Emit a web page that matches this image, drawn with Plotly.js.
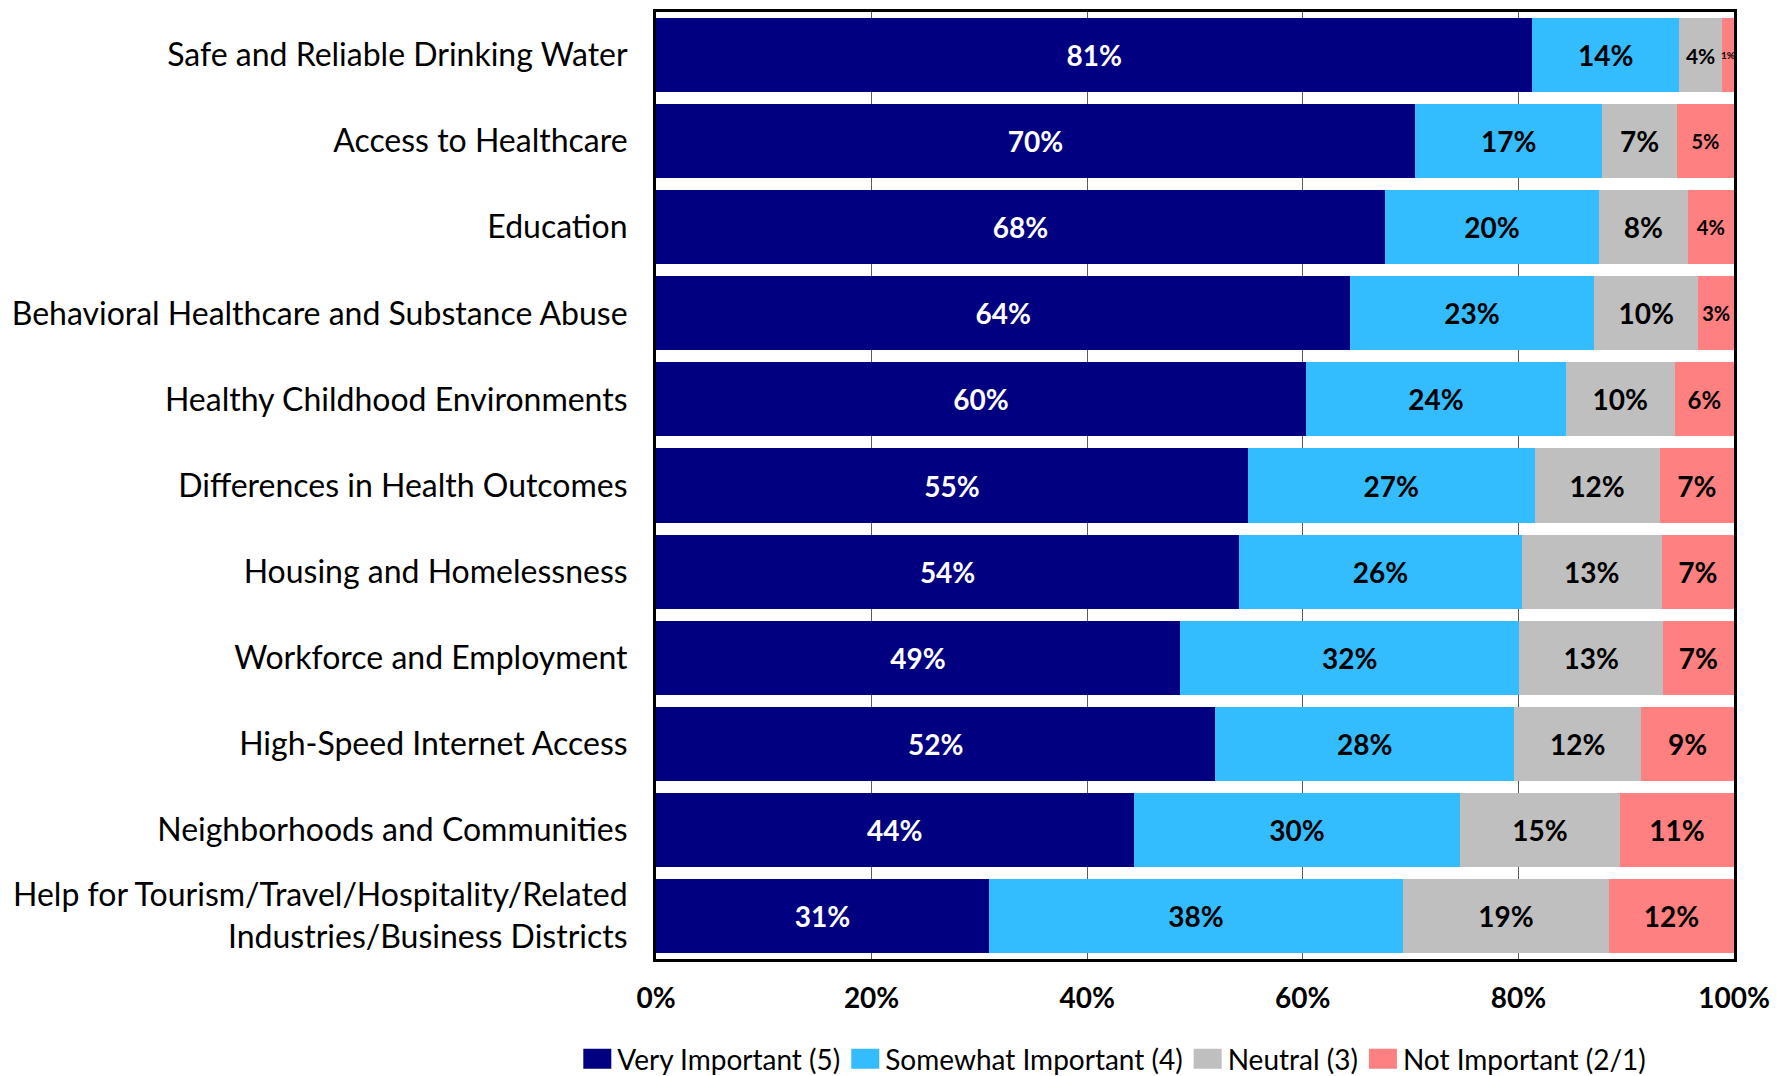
<!DOCTYPE html>
<html>
<head>
<meta charset="utf-8">
<script src="https://cdn.plot.ly/plotly-3.0.1.min.js"></script>
<style>
  html, body { margin: 0; padding: 0; background: #ffffff; }
  #chart { width: 1791px; height: 1076px; }
</style>
</head>
<body>
<div id="chart"></div>
<script>
// Categories (top to bottom)
const categories = [
  "Safe and Reliable Drinking Water",
  "Access to Healthcare",
  "Education",
  "Behavioral Healthcare and Substance Abuse",
  "Healthy Childhood Environments",
  "Differences in Health Outcomes",
  "Housing and Homelessness",
  "Workforce and Employment",
  "High-Speed Internet Access",
  "Neighborhoods and Communities",
  "Help for Tourism/Travel/Hospitality/Related<br>Industries/Business Districts"
];

// Series values (percent of respondents)
const veryImportant     = [81.3, 70.4, 67.6, 64.4, 60.3, 54.9, 54.1, 48.6, 51.9, 44.3, 30.9];
const somewhatImportant = [13.6, 17.4, 19.9, 22.6, 24.1, 26.6, 26.2, 31.5, 27.7, 30.3, 38.4];
const neutral           = [ 4.0,  6.9,  8.2,  9.7, 10.1, 11.6, 13.0, 13.3, 11.8, 14.8, 19.1];
const notImportant      = [ 1.1,  5.3,  4.3,  3.3,  5.5,  6.9,  6.7,  6.6,  8.6, 10.6, 11.6];

const seriesNames = ["Very Important (5)", "Somewhat Important (4)", "Neutral (3)", "Not Important (2/1)"];
const xTickVals = [0, 20, 40, 60, 80, 100];
const xTickText = ["0%", "20%", "40%", "60%", "80%", "100%"];

// Styling
const colors = ["#000080", "#33BDFF", "#BFBFBF", "#FF8080"];
const textColors = ["#FFFFFF", "#000000", "#000000", "#000000"];
const neutralLabelSizes = [21, 28, 28, 28, 28, 28, 28, 28, 28, 28, 28];
const notImpLabelSizes  = [10, 20, 20, 20, 24, 28, 28, 28, 28, 28, 28];
const FONT = "Lato, 'Open Sans', sans-serif";

const seriesValues = [veryImportant, somewhatImportant, neutral, notImportant];
const labelSizes = [28, 28, neutralLabelSizes, notImpLabelSizes];

const data = seriesValues.map((vals, i) => ({
  type: "bar",
  orientation: "h",
  name: seriesNames[i],
  y: categories,
  x: vals,
  marker: { color: colors[i], line: { width: 0 } },
  texttemplate: "%{x:.0f}%",
  textposition: "inside",
  insidetextanchor: "middle",
  textangle: 0,
  constraintext: "none",
  textfont: { family: FONT, size: labelSizes[i], color: textColors[i], weight: "bold" },
  hoverinfo: "skip"
}));

const layout = {
  width: 1791,
  height: 1076,
  barmode: "stack",
  bargap: 0.14,
  paper_bgcolor: "#FFFFFF",
  plot_bgcolor: "#FFFFFF",
  margin: { l: 656, r: 57, t: 12, b: 117, autoexpand: false },
  font: { family: FONT, color: "#000000" },
  showlegend: true,
  legend: {
    orientation: "h",
    x: -0.073,
    xanchor: "left",
    y: -0.1056,
    yanchor: "middle",
    font: { family: FONT, size: 28, color: "#000000" },
    traceorder: "normal",
    itemclick: false
  },
  xaxis: {
    range: [0, 100],
    tickvals: xTickVals,
    ticktext: xTickText,
    showgrid: true,
    gridcolor: "#595959",
    gridwidth: 1,
    zeroline: false,
    showline: true,
    linecolor: "#000000",
    linewidth: 3,
    mirror: true,
    ticks: "",
    ticklabelstandoff: 12,
    tickfont: { family: FONT, size: 28, color: "#000000", weight: "bold" },
    automargin: false,
    fixedrange: true
  },
  yaxis: {
    type: "category",
    autorange: "reversed",
    showgrid: false,
    zeroline: false,
    showline: true,
    linecolor: "#000000",
    linewidth: 3,
    mirror: true,
    ticks: "",
    ticklabelstandoff: 19,
    tickfont: { family: FONT, size: 32, color: "#000000" },
    automargin: false,
    fixedrange: true
  }
};

Plotly.newPlot("chart", data, layout, { staticPlot: true, displayModeBar: false }).then(gd => {
  gd.querySelectorAll(".legend .legendpoints path").forEach(p => {
    p.setAttribute("d", "M14,10H-14V-10H14Z");
  });
});
</script>
</body>
</html>
